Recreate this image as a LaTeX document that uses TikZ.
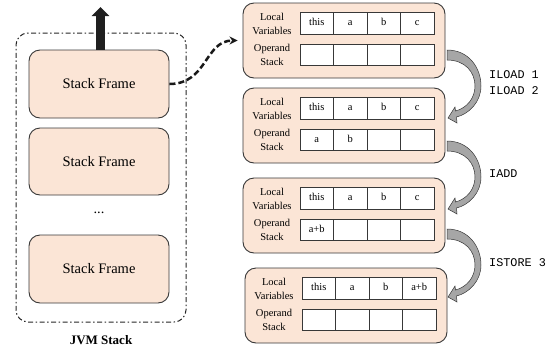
\documentclass[tikz,border=0pt]{standalone}
\usepackage{fontspec}
\setmainfont{Liberation Serif}
\setmonofont{Liberation Mono}
\usetikzlibrary{arrows.meta}
\definecolor{peach}{HTML}{FBE5D6}
\definecolor{edge}{HTML}{383838}
\definecolor{arrowgray}{HTML}{A6A6A6}
\newcommand{\jframe}[5]{%
  \node[rframe] (#1) at (#2+101,#3+37.5) {};
  \node[lbl] (#1-lv) at (#2+29,#3+21) {Local\\Variables};
  \node[lbl] (#1-os) at (#2+29,#3+52) {Operand\\Stack};
  \foreach \t [count=\i] in {#4} \node[cell, minimum height=22pt] (#1-l\i) at (#2+57+33.5*\i-16.75,#3+20) {\t};
  \foreach \t [count=\i] in {#5} \node[cell, minimum height=21pt] (#1-o\i) at (#2+57+33.5*\i-16.75,#3+51.5) {\t};
}
\newcommand{\E}{\phantom{a}}
\begin{document}
\begin{tikzpicture}[x=1pt,y=-1pt,
  sframe/.style={draw=edge, fill=peach, line width=0.9pt, rounded corners=11pt,
    minimum width=140pt, inner sep=0pt, font=\fontsize{14.5}{16}\selectfont},
  rframe/.style={draw=edge, fill=peach, line width=0.9pt, rounded corners=11pt,
    minimum width=202pt, minimum height=75pt, inner sep=0pt},
  lbl/.style={align=center, inner sep=0pt, font=\fontsize{10.5}{13.5}\selectfont},
  cell/.style={draw=edge, fill=white, line width=0.7pt, minimum width=33.5pt,
    inner sep=0pt, text height=7pt, text depth=1.5pt, font=\fontsize{10.5}{12}\selectfont},
  container/.style={draw=black!85, line width=1pt, rounded corners=12pt,
    dash pattern=on 5pt off 2.5pt on 1.5pt off 2.5pt, minimum width=170pt, minimum height=289pt},
  bendarrow/.pic={
    \path[fill=arrowgray, draw=edge, line width=0.5pt]
      (0,0) .. controls (22,0) and (34,18) .. (34,36)
      .. controls (34,52) and (22,64) .. (9.5,67) -- (10,73) -- (1,68) -- (8,57) -- (8.5,61)
      .. controls (20,58) and (28,48) .. (28,36)
      .. controls (28,22) and (18,10) .. (0,10) -- cycle;
  },
  instr/.style={anchor=west, align=left, inner sep=0pt,
    font=\fontsize{11.8}{16}\selectfont\ttfamily}
]
\useasboundingbox (0,0) rectangle (558,349);

% JVM stack
\node[container] (jvm) at (101,177.5) {};
\node[sframe, minimum height=68pt] (f1) at (99,84) {Stack Frame};
\node[sframe, minimum height=67pt] (f2) at (99,161.5) {Stack Frame};
\node[font=\fontsize{14.5}{16}\selectfont] (dots) at (99,213) {...};
\node[sframe, minimum height=68pt] (f3) at (99,269) {Stack Frame};
\node[font=\bfseries\fontsize{13}{15}\selectfont] (jvmlbl) at (101,340) {JVM Stack};

\coordinate (top) at (100.5,7);
\draw[line width=9pt, black!88, -{Triangle[length=9pt,width=17pt]}] ([xshift=1.5pt]f1.north) -- (top);

% frames on the right
\jframe{b1}{243}{3}{this,a,b,c}{\E,\E,\E,\E}
\jframe{b2}{243}{88}{this,a,b,c}{a,b,\E,\E}
\jframe{b3}{243}{178}{this,a,b,c}{a+b,\E,\E,\E}
\jframe{b4}{245}{268}{this,a,b,a+b}{\E,\E,\E,\E}

\draw[black!90, line width=2.5pt, dash pattern=on 6pt off 3pt,
  -{Stealth[length=8pt,width=8pt]}, shorten >=5pt]
  (f1.east) .. controls +(38,0) and +(-38,0) .. (b1.west);

% bent arrows
\coordinate (s1) at (447,50);
\coordinate (s2) at (447,141);
\coordinate (s3) at (447,229);
\pic at (s1) {bendarrow};
\pic at (s2) {bendarrow};
\pic at (s3) {bendarrow};

\node[instr] (i1) at (489,83) {ILOAD 1\\ILOAD 2};
\node[instr] (i2) at (489,174) {IADD};
\node[instr] (i3) at (489,263) {ISTORE 3};
\end{tikzpicture}
\end{document}
